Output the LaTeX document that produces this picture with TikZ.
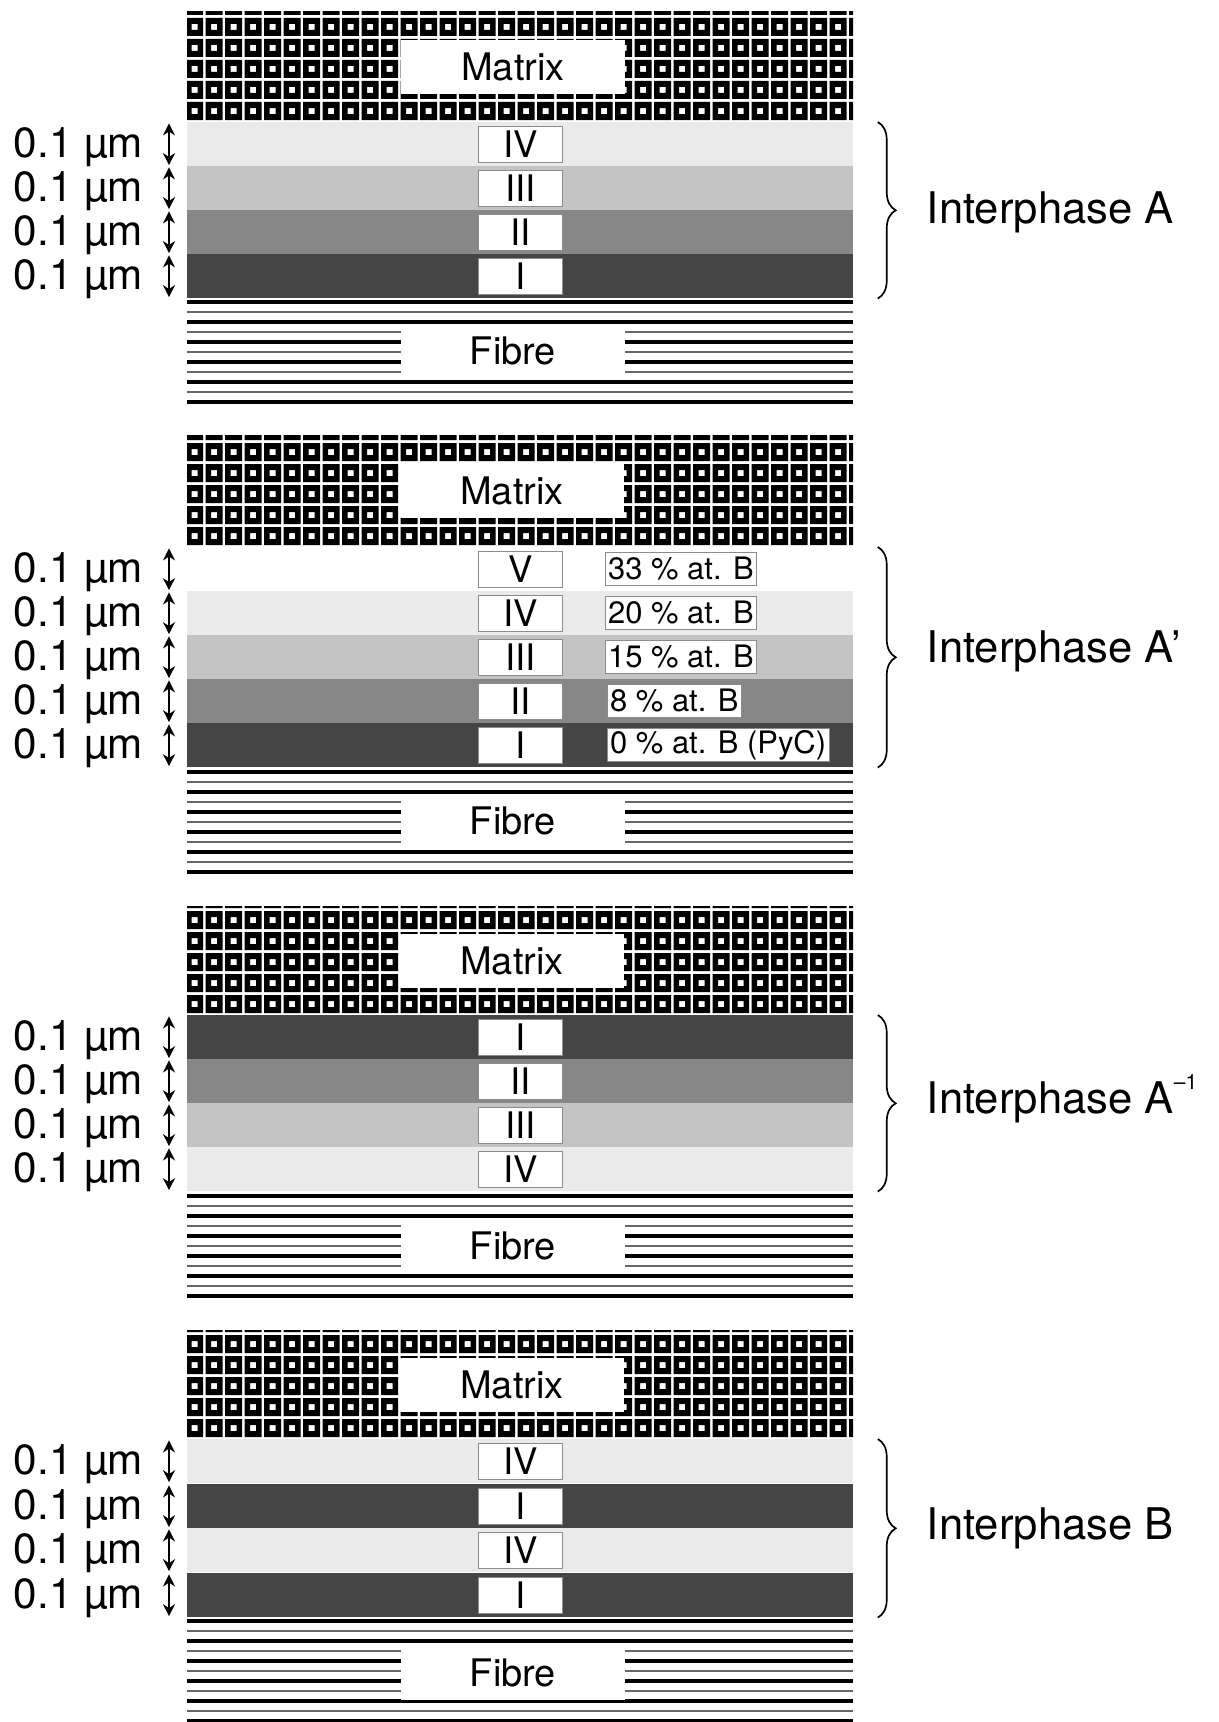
\documentclass[tikz,border=0pt]{standalone}
\usepackage{fontspec}
\setmainfont{TeX Gyre Heros}
\usetikzlibrary{arrows.meta, decorations.pathreplacing}

\definecolor{layerI}{HTML}{454545}
\definecolor{layerII}{HTML}{878787}
\definecolor{layerIII}{HTML}{C4C4C4}
\definecolor{layerIV}{HTML}{EAEAEA}

\begin{document}
\begin{tikzpicture}[
        x=0.025cm, y=-0.025cm, % one unit = one pixel of the sheet, y downwards
        layer/.style={rectangle, inner sep=0pt, anchor=north west, minimum width=16.65cm, minimum height=1.1cm},
        numbox/.style={rectangle, fill=white, draw=black!45, thin, inner sep=0pt, minimum width=2.1cm, minimum height=0.92cm, font=\fontsize{26}{26}\selectfont},
        pctbox/.style={rectangle, fill=white, draw=black!45, thin, inner xsep=2pt, inner ysep=0pt, anchor=west, minimum height=0.82cm, font=\fontsize{22}{22}\selectfont},
        taglab/.style={rectangle, fill=white, inner sep=0pt, minimum width=5.6cm, minimum height=1.35cm, font=\fontsize{27}{27}\selectfont},
        sizelab/.style={anchor=east, font=\fontsize{30}{30}\selectfont},
        phaselab/.style={anchor=base west, font=\fontsize{31}{31}\selectfont},
        dimarrow/.style={{Stealth[length=3mm, width=3mm]}-{Stealth[length=3mm, width=3mm]}, line width=1.6pt},
        bracket/.style={decorate, decoration={brace, amplitude=0.45cm}, line width=1.2pt},
        fibrethick/.style={line width=2.2pt, black},
        fibrethin/.style={line width=1.6pt, black!60}
    ]

    \useasboundingbox (0,0) rectangle (1218,1722);

    % Matrix: woven square pattern
    \foreach \t/\b in {12/122, 435/547, 906/1015, 1330/1439} {
        \begin{scope}
            \clip (187,\t) rectangle (853,\b);
            \foreach \i in {0,...,34} {
                \foreach \j in {0,...,5} {
                    \fill[black, even odd rule] ({186+19.5*\i},{\b-20-21*\j}) rectangle +(17,18)
                        ({191.5+19.5*\i},{\b-14-21*\j}) rectangle +(6,6);
                }
            }
        \end{scope}
    }

    % Fibre: horizontal lines
    \foreach \t in {302, 772, 1196, 1621} {
        \foreach \k in {0,2,...,10} {
            \draw[fibrethick] (187,{\t+10*\k}) -- (853,{\t+10*\k});
        }
        \foreach \k in {1,3,...,9} {
            \draw[fibrethin] (187,{\t+10*\k}) -- (853,{\t+10*\k});
        }
    }

    % Labels of matrix and fibre
    \node[taglab] (m1) at (513, 67) {Matrix};
    \node[taglab] (f1) at (513, 351) {Fibre};
    \node[taglab] (m2) at (512, 491) {Matrix};
    \node[taglab] (f2) at (513, 821) {Fibre};
    \node[taglab] (m3) at (512, 961) {Matrix};
    \node[taglab] (f3) at (513, 1246) {Fibre};
    \node[taglab] (m4) at (512, 1385) {Matrix};
    \node[taglab] (f4) at (513, 1673) {Fibre};

    % Interphase A
    \node[layer, fill=layerIV] (a4) at (187,122) {};
    \node[layer, fill=layerIII] (a3) at (187,166) {};
    \node[layer, fill=layerII] (a2) at (187,210) {};
    \node[layer, fill=layerI] (a1) at (187,254) {};
    \node[numbox] (na4) at (a4) {IV};
    \node[numbox] (na3) at (a3) {III};
    \node[numbox] (na2) at (a2) {II};
    \node[numbox] (na1) at (a1) {I};

    % Interphase A'
    \node[layer, fill=white] (b5) at (187,547) {};
    \node[layer, fill=layerIV] (b4) at (187,591) {};
    \node[layer, fill=layerIII] (b3) at (187,635) {};
    \node[layer, fill=layerII] (b2) at (187,679) {};
    \node[layer, fill=layerI] (b1) at (187,723) {};
    \node[numbox] (nb5) at (b5) {V};
    \node[numbox] (nb4) at (b4) {IV};
    \node[numbox] (nb3) at (b3) {III};
    \node[numbox] (nb2) at (b2) {II};
    \node[numbox] (nb1) at (b1) {I};
    \node[pctbox] (pb5) at (605, 569) {33 \% at. B};
    \node[pctbox] (pb4) at (605, 613) {20 \% at. B};
    \node[pctbox] (pb3) at (605, 657) {15 \% at. B};
    \node[pctbox] (pb2) at (607, 701) {8 \% at. B};
    \node[pctbox] (pb1) at (607, 745) {0 \% at. B (PyC)};

    % Interphase A^-1
    \node[layer, fill=layerI] (c1) at (187,1015) {};
    \node[layer, fill=layerII] (c2) at (187,1059) {};
    \node[layer, fill=layerIII] (c3) at (187,1103) {};
    \node[layer, fill=layerIV] (c4) at (187,1147) {};
    \node[numbox] (nc1) at (c1) {I};
    \node[numbox] (nc2) at (c2) {II};
    \node[numbox] (nc3) at (c3) {III};
    \node[numbox] (nc4) at (c4) {IV};

    % Interphase B
    \node[layer, fill=layerIV] (d4) at (187,1439) {};
    \node[layer, fill=layerI] (d3) at (187,1484) {};
    \node[layer, fill=layerIV] (d2) at (187,1528) {};
    \node[layer, fill=layerI] (d1) at (187,1573) {};
    \node[numbox] (nd4) at (d4) {IV};
    \node[numbox] (nd3) at (d3) {I};
    \node[numbox] (nd2) at (d2) {IV};
    \node[numbox] (nd1) at (d1) {I};

    % Thickness of each layer
    \foreach \L in {a4,a3,a2,a1,b5,b4,b3,b2,b1,c1,c2,c3,c4,d4,d3,d2,d1} {
        \draw[dimarrow] ([xshift=-0.45cm, yshift=-1pt]\L.north west) -- ([xshift=-0.45cm, yshift=1pt]\L.south west);
        \node[sizelab] at ([xshift=-0.98cm, yshift=-2pt]\L.west) {0.1 µm};
    }

    % Braces and names
    \draw[bracket] ([xshift=0.6cm]a4.north east) -- ([xshift=0.6cm]a1.south east);
    \node[phaselab] (pa) at (922, 223) {Interphase A};
    \draw[bracket] ([xshift=0.6cm]b5.north east) -- ([xshift=0.6cm]b1.south east);
    \node[phaselab] (pb) at (922, 662) {Interphase A'};
    \draw[bracket] ([xshift=0.6cm]c1.north east) -- ([xshift=0.6cm]c4.south east);
    \node[phaselab] (pc) at (922, 1113) {Interphase A\raisebox{0.55em}{\fontsize{15}{15}\selectfont –1}};
    \draw[bracket] ([xshift=0.6cm]d4.north east) -- ([xshift=0.6cm]d1.south east);
    \node[phaselab] (pd) at (922, 1539) {Interphase B};

\end{tikzpicture}
\end{document}
